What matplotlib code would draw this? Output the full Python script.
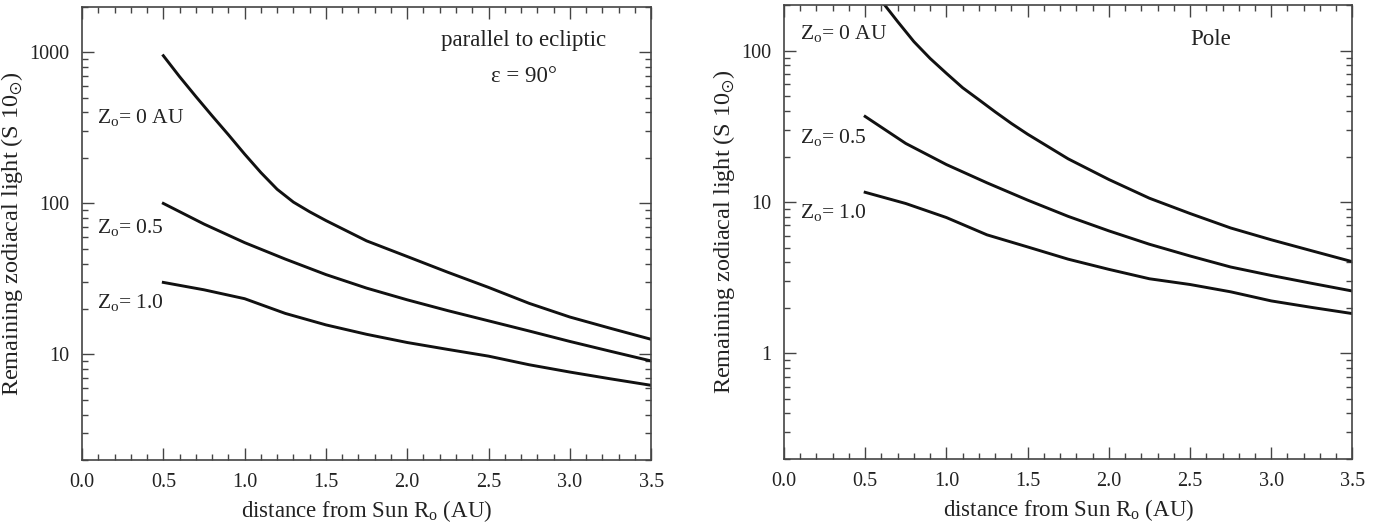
import matplotlib
matplotlib.use("Agg")
from matplotlib import pyplot as plt
from matplotlib.ticker import FixedLocator, LogLocator, NullFormatter, FixedFormatter, MultipleLocator, FormatStrFormatter
import numpy as np

plt.rcParams['font.family'] = ['Liberation Serif', 'DejaVu Serif']
plt.rcParams['mathtext.fontset'] = 'custom'
plt.rcParams['mathtext.rm'] = 'Liberation Serif'
plt.rcParams['mathtext.it'] = 'Liberation Serif:italic'
plt.rcParams['mathtext.fallback'] = 'stix'

# distance from Sun (AU)
dist = [0.5, 0.6, 0.7, 0.8, 0.9, 1.0, 1.1, 1.2, 1.3, 1.4, 1.5, 1.75, 2.0,
        2.25, 2.5, 2.75, 3.0, 3.25, 3.5]
dist_b = [0.5, 0.75, 1.0, 1.25, 1.5, 1.75, 2.0, 2.25, 2.5, 2.75, 3.0, 3.25, 3.5]

# parallel to ecliptic, eps = 90 deg
ecl_z0 = [950, 690, 510, 380, 285, 212, 160, 124, 102, 88, 77, 56.5, 44.5,
          35, 27.8, 21.8, 17.7, 14.9, 12.6]
ecl_z05 = [100, 73, 55, 42.8, 33.8, 27.5, 23.0, 19.5, 16.7, 14.3, 12.2, 10.5, 9.06]
ecl_z10 = [30, 26.8, 23.4, 18.7, 15.7, 13.6, 12.0, 10.8, 9.75, 8.55, 7.65, 6.9, 6.25]

# Pole
pole_z0 = [300, 214, 156, 115, 89, 71, 57, 47.5, 39.5, 33.1, 28.1, 19.3, 14.1,
           10.6, 8.4, 6.74, 5.63, 4.76, 4.03]
pole_z05 = [36.8, 24.4, 17.7, 13.4, 10.3, 8.04, 6.45, 5.26, 4.4, 3.72, 3.27, 2.9, 2.58]
pole_z10 = [11.6, 9.78, 7.9, 6.07, 5.05, 4.19, 3.59, 3.11, 2.85, 2.55, 2.22, 2.01, 1.83]

fig = plt.figure(figsize=(13.88, 5.27), dpi=100)
ax1 = fig.add_axes([0.0591, 0.127, 0.41, 0.860])
ax2 = fig.add_axes([0.5648, 0.129, 0.4096, 0.861])

ink = '#111111'
txt = '#222222'
spine_col = '#444444'


def style_axes(ax, ylim, yticks):
    ax.set_yscale('log')
    ax.set_xlim(0, 3.5)
    ax.set_ylim(*ylim)
    ax.xaxis.set_major_locator(MultipleLocator(0.5))
    ax.xaxis.set_minor_locator(MultipleLocator(0.1))
    ax.xaxis.set_major_formatter(FormatStrFormatter('%.1f'))
    ax.yaxis.set_major_locator(FixedLocator(yticks))
    ax.yaxis.set_major_formatter(FixedFormatter([str(t) for t in yticks]))
    ax.yaxis.set_minor_locator(LogLocator(base=10, subs=np.arange(2, 10)))
    ax.yaxis.set_minor_formatter(NullFormatter())
    ax.tick_params(which='both', direction='in', top=True, right=True,
                   color=spine_col, width=1.0, labelsize=14.5, labelcolor=txt)
    ax.tick_params(which='major', length=8.5, pad=9)
    ax.tick_params(which='minor', length=4)
    for s in ax.spines.values():
        s.set_color(spine_col)
        s.set_linewidth(1.2)
    ax.set_xlabel(r'distance from Sun R$_{\rm o}$ (AU)', fontsize=16.5, labelpad=5, color=txt)
    ax.set_ylabel(r'Remaining zodiacal light (S 10$_{\odot}$)', fontsize=17.5, labelpad=3, color=txt)


style_axes(ax1, (2, 2000), [10, 100, 1000])
ax1.plot(dist, ecl_z0, color=ink, lw=2.1)
ax1.plot(dist_b, ecl_z05, color=ink, lw=2.1)
ax1.plot(dist_b, ecl_z10, color=ink, lw=2.1)
ax1.text(0.026, 0.755, r'Z$_{\rm o}$= 0 AU', transform=ax1.transAxes, fontsize=15.5, va='center', color=txt)
ax1.text(0.026, 0.514, r'Z$_{\rm o}$= 0.5', transform=ax1.transAxes, fontsize=15.5, va='center', color=txt)
ax1.text(0.026, 0.347, r'Z$_{\rm o}$= 1.0', transform=ax1.transAxes, fontsize=15.5, va='center', color=txt)
ax1.text(0.776, 0.925, 'parallel to ecliptic', transform=ax1.transAxes, fontsize=16.5, ha='center', va='center', color=txt)
ax1.text(0.776, 0.847, 'ε = 90°', transform=ax1.transAxes, fontsize=16.5, ha='center', va='center', color=txt)

style_axes(ax2, (0.2, 200), [1, 10, 100])
ax2.plot(dist, pole_z0, color=ink, lw=2.1)
ax2.plot(dist_b, pole_z05, color=ink, lw=2.1)
ax2.plot(dist_b, pole_z10, color=ink, lw=2.1)
ax2.text(0.028, 0.938, r'Z$_{\rm o}$= 0 AU', transform=ax2.transAxes, fontsize=15.5, va='center', color=txt)
ax2.text(0.028, 0.709, r'Z$_{\rm o}$= 0.5', transform=ax2.transAxes, fontsize=15.5, va='center', color=txt)
ax2.text(0.028, 0.544, r'Z$_{\rm o}$= 1.0', transform=ax2.transAxes, fontsize=15.5, va='center', color=txt)
ax2.text(0.751, 0.925, 'Pole', transform=ax2.transAxes, fontsize=16.5, ha='center', va='center', color=txt)

fig.savefig('out.png', dpi=100)
